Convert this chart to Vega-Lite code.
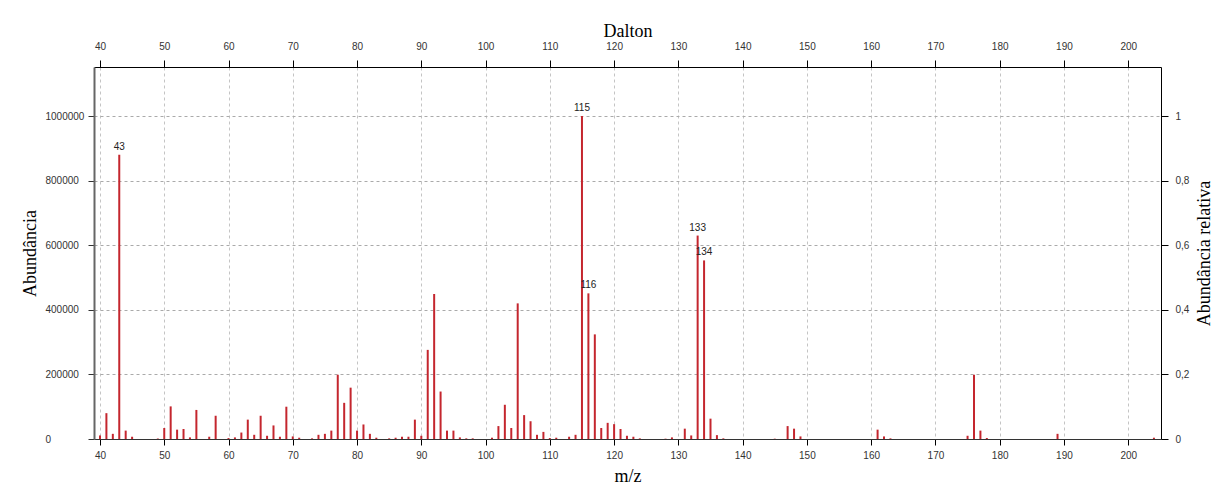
{
  "$schema": "https://vega.github.io/schema/vega-lite/v6.json",
  "width": 1067,
  "height": 372,
  "autosize": {"type": "none"},
  "padding": {"left": 94, "top": 67, "right": 68, "bottom": 55},
  "background": "white",
  "config": {"view": {"stroke": null}, "font": "Liberation Sans"},
  "data": {"values": [
    {"mz": 40, "ab": 11000}, {"mz": 41, "ab": 80000}, {"mz": 42, "ab": 16000},
    {"mz": 43, "ab": 880000, "lab": "43"}, {"mz": 44, "ab": 26000}, {"mz": 45, "ab": 7000},
    {"mz": 49, "ab": 1500}, {"mz": 50, "ab": 34000}, {"mz": 51, "ab": 101000},
    {"mz": 52, "ab": 29000}, {"mz": 53, "ab": 31000}, {"mz": 54, "ab": 5000},
    {"mz": 55, "ab": 90000}, {"mz": 57, "ab": 7000}, {"mz": 58, "ab": 72000},
    {"mz": 60, "ab": 3000}, {"mz": 61, "ab": 5000}, {"mz": 62, "ab": 20000},
    {"mz": 63, "ab": 60000}, {"mz": 64, "ab": 13000}, {"mz": 65, "ab": 72000},
    {"mz": 66, "ab": 10000}, {"mz": 67, "ab": 42000}, {"mz": 68, "ab": 7000},
    {"mz": 69, "ab": 100000}, {"mz": 70, "ab": 8000}, {"mz": 71, "ab": 4000},
    {"mz": 73, "ab": 2000}, {"mz": 74, "ab": 13000}, {"mz": 75, "ab": 16000},
    {"mz": 76, "ab": 26000}, {"mz": 77, "ab": 199000}, {"mz": 78, "ab": 112000},
    {"mz": 79, "ab": 159000}, {"mz": 80, "ab": 26000}, {"mz": 81, "ab": 45000},
    {"mz": 82, "ab": 16000}, {"mz": 83, "ab": 4000}, {"mz": 85, "ab": 2000},
    {"mz": 86, "ab": 4000}, {"mz": 87, "ab": 7000}, {"mz": 88, "ab": 7000},
    {"mz": 89, "ab": 60000}, {"mz": 90, "ab": 10000}, {"mz": 91, "ab": 276000},
    {"mz": 92, "ab": 449000}, {"mz": 93, "ab": 147000}, {"mz": 94, "ab": 26000},
    {"mz": 95, "ab": 26000}, {"mz": 96, "ab": 5000}, {"mz": 97, "ab": 2000},
    {"mz": 98, "ab": 2000}, {"mz": 101, "ab": 4000}, {"mz": 102, "ab": 40000},
    {"mz": 103, "ab": 106000}, {"mz": 104, "ab": 34000}, {"mz": 105, "ab": 420000},
    {"mz": 106, "ab": 74000}, {"mz": 107, "ab": 55000}, {"mz": 108, "ab": 13000},
    {"mz": 109, "ab": 22000}, {"mz": 110, "ab": 3000}, {"mz": 111, "ab": 4000},
    {"mz": 113, "ab": 7000}, {"mz": 114, "ab": 13000}, {"mz": 115, "ab": 1000000, "lab": "115"},
    {"mz": 116, "ab": 451000, "lab": "116"}, {"mz": 117, "ab": 324000}, {"mz": 118, "ab": 34000},
    {"mz": 119, "ab": 50000}, {"mz": 120, "ab": 46000}, {"mz": 121, "ab": 31000},
    {"mz": 122, "ab": 10000}, {"mz": 123, "ab": 7000}, {"mz": 124, "ab": 2000},
    {"mz": 128, "ab": 1000}, {"mz": 129, "ab": 5000}, {"mz": 131, "ab": 32000},
    {"mz": 132, "ab": 11000}, {"mz": 133, "ab": 630000, "lab": "133"}, {"mz": 134, "ab": 553000, "lab": "134"},
    {"mz": 135, "ab": 63000}, {"mz": 136, "ab": 12000}, {"mz": 137, "ab": 2000},
    {"mz": 145, "ab": 1000}, {"mz": 147, "ab": 40000}, {"mz": 148, "ab": 32000},
    {"mz": 149, "ab": 8000}, {"mz": 161, "ab": 29000}, {"mz": 162, "ab": 8000},
    {"mz": 163, "ab": 2000}, {"mz": 175, "ab": 10000}, {"mz": 176, "ab": 199000},
    {"mz": 177, "ab": 26000}, {"mz": 178, "ab": 3000}, {"mz": 189, "ab": 16000},
    {"mz": 204, "ab": 4000}
  ]},
  "layer": [
    {
      "mark": {"type": "rule", "color": "#c4262e", "strokeWidth": 2},
      "encoding": {
        "x": {
          "field": "mz", "type": "quantitative",
          "scale": {"domain": [39.07, 205.1], "nice": false, "zero": false},
          "axis": {
            "orient": "bottom", "title": "m/z",
            "values": [40, 50, 60, 70, 80, 90, 100, 110, 120, 130, 140, 150, 160, 170, 180, 190, 200],
            "grid": true, "gridDash": [3, 3], "gridColor": "#c4c4c4",
            "domainColor": "#333333", "tickColor": "#000000", "tickSize": 6,
            "labelFont": "Liberation Sans", "labelFontSize": 10, "labelColor": "#333333", "labelPadding": 5,
            "titleFont": "Liberation Serif", "titleFontSize": 18, "titleFontWeight": "normal", "titleColor": "#000000",
            "titleY": 37, "titleBaseline": "middle"
          }
        },
        "y": {
          "field": "ab", "type": "quantitative",
          "scale": {"domain": [0, 1152000], "nice": false},
          "axis": {
            "orient": "left", "title": "Abundância",
            "values": [0, 200000, 400000, 600000, 800000, 1000000], "format": "d",
            "grid": true, "gridDash": [3, 3], "gridColor": "#aaaaaa",
            "domainColor": "#666666", "domainWidth": 2, "tickColor": "#333333", "tickSize": 6,
            "labelFont": "Liberation Sans", "labelFontSize": 10, "labelColor": "#333333",
            "labelAlign": "left", "labelPadding": 43,
            "titleFont": "Liberation Serif", "titleFontSize": 18, "titleFontWeight": "normal", "titleColor": "#000000",
            "titleX": -64, "titleBaseline": "middle", "titleAngle": -90
          }
        },
        "y2": {"datum": 0}
      }
    },
    {
      "transform": [{"filter": "datum.lab != null"}],
      "mark": {"type": "text", "font": "Liberation Sans", "fontSize": 10, "color": "#222222", "baseline": "alphabetic", "dy": -5},
      "encoding": {
        "x": {"field": "mz", "type": "quantitative", "axis": null},
        "y": {"field": "ab", "type": "quantitative", "axis": null},
        "text": {"field": "lab"}
      }
    },
    {
      "mark": {"type": "rule", "strokeOpacity": 0},
      "encoding": {
        "x": {
          "field": "mz", "type": "quantitative",
          "axis": {
            "orient": "top", "title": "Dalton",
            "values": [40, 50, 60, 70, 80, 90, 100, 110, 120, 130, 140, 150, 160, 170, 180, 190, 200],
            "grid": false, "domainColor": "#000000", "tickColor": "#000000", "tickSize": 7,
            "labelFont": "Liberation Sans", "labelFontSize": 10, "labelColor": "#333333", "labelPadding": 9,
            "titleFont": "Liberation Serif", "titleFontSize": 18, "titleFontWeight": "normal", "titleColor": "#000000",
            "titleY": -36, "titleBaseline": "middle"
          }
        },
        "y": {
          "field": "ab", "type": "quantitative",
          "axis": {
            "orient": "right", "title": "Abundância relativa",
            "values": [0, 200000, 400000, 600000, 800000, 1000000],
            "labelExpr": "replace(format(datum.value / 1000000, '.1~f'), '.', ',')",
            "grid": false, "domainColor": "#000000", "tickColor": "#000000", "tickSize": 7,
            "labelFont": "Liberation Sans", "labelFontSize": 10, "labelColor": "#333333", "labelPadding": 7,
            "titleFont": "Liberation Serif", "titleFontSize": 18, "titleFontWeight": "normal", "titleColor": "#000000",
            "titleX": 43, "titleBaseline": "middle", "titleAngle": -90
          }
        },
        "y2": {"datum": 0}
      }
    }
  ],
  "resolve": {"axis": {"x": "independent", "y": "independent"}}
}
